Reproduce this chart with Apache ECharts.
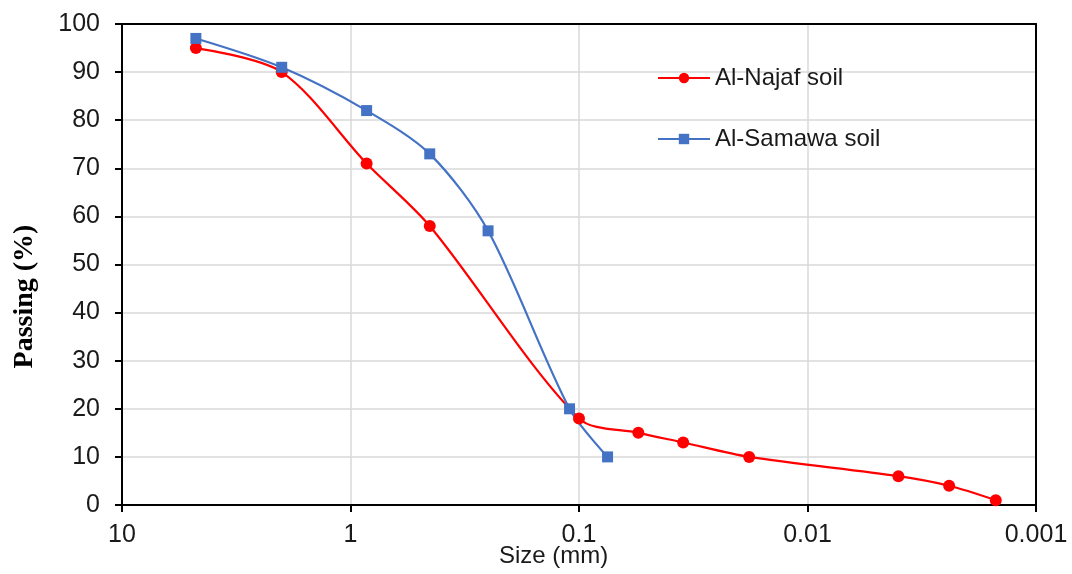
<!DOCTYPE html>
<html>
<head>
<meta charset="utf-8">
<script src="https://cdn.jsdelivr.net/npm/echarts@6/dist/echarts.min.js"></script>
<style>html,body{margin:0;padding:0;background:#fff}#c{width:1072px;height:574px}</style>
</head>
<body>
<div id="c"></div>
<script>
const najafSize = [4.75, 2.0, 0.85, 0.45, 0.1, 0.055, 0.035, 0.018, 0.004, 0.0024, 0.0015];
const najafPass = [95, 90, 71, 58, 18, 15, 13, 10, 6, 4, 1];
const samawaSize = [4.75, 2.0, 0.85, 0.45, 0.25, 0.11, 0.075];
const samawaPass = [97, 91, 82, 73, 57, 20, 10];
const yTicks = [0, 10, 20, 30, 40, 50, 60, 70, 80, 90, 100];
const xTickLabels = ['10', '1', '0.1', '0.01', '0.001'];
const xAxisTitle = 'Size (mm)';
const yAxisTitle = 'Passing (%)';

const chart = echarts.init(document.getElementById('c'));
const font = 'Liberation Sans, Arial, sans-serif';
const txt = '#1a1a1a';
chart.setOption({
  backgroundColor: '#fff',
  animation: false,
  title: {
    text: xAxisTitle, left: 499, top: 544, padding: 0,
    textStyle: { fontFamily: font, fontSize: 24, fontWeight: 'normal', color: txt }
  },
  grid: { left: 122, right: 36, top: 24, bottom: 69, outerBoundsMode: 'none', containLabel: false },
  legend: {
    orient: 'vertical', left: 652, top: 61, itemGap: 37, itemWidth: 52, itemHeight: 13,
    textStyle: { fontFamily: font, fontSize: 24, color: txt },
    data: ['Al-Najaf soil', 'Al-Samawa soil']
  },
  xAxis: [{
    type: 'log', logBase: 10, min: 0.001, max: 10, inverse: true,
    axisLine: { onZero: false, lineStyle: { color: '#000', width: 2 } },
    axisTick: { show: true, length: 7, lineStyle: { color: '#000', width: 2 } },
    minorTick: { show: false },
    splitLine: { show: true, lineStyle: { color: '#d9d9d9', width: 1.5 } },
    axisLabel: {
      fontFamily: font, fontSize: 25, color: txt, margin: 18,
      formatter: function (v) {
        const e = Math.round(Math.log10(v));
        const i = 1 - e;
        return xTickLabels[i] !== undefined ? xTickLabels[i] : '';
      }
    }
  }, {
    type: 'log', logBase: 10, min: 0.001, max: 10, inverse: true, position: 'top',
    axisLine: { show: true, onZero: false, lineStyle: { color: '#000', width: 2 } },
    axisTick: { show: false }, axisLabel: { show: false }, splitLine: { show: false }
  }],
  yAxis: [{
    type: 'value', min: 0, max: 100, interval: 10,
    name: yAxisTitle, nameLocation: 'middle', nameGap: 83, nameRotate: 90, nameMoveOverlap: false,
    nameTextStyle: { fontFamily: 'Liberation Serif, Times New Roman, serif', fontWeight: 'bold', fontSize: 28, color: '#000', padding: [0, 64, 0, 0] },
    axisLine: { show: true, onZero: false, lineStyle: { color: '#000', width: 2 } },
    axisTick: { show: true, length: 7, lineStyle: { color: '#000', width: 2 } },
    splitLine: { show: true, lineStyle: { color: '#d9d9d9', width: 1.5 } },
    axisLabel: {
      fontFamily: font, fontSize: 25, color: txt, margin: 22,
      formatter: function (v) { return yTicks.indexOf(v) >= 0 ? String(v) : ''; }
    }
  }, {
    type: 'value', min: 0, max: 100, interval: 10, position: 'right',
    axisLine: { show: true, onZero: false, lineStyle: { color: '#000', width: 2 } },
    axisTick: { show: false }, axisLabel: { show: false }, splitLine: { show: false }
  }],
  series: [
    {
      name: 'Al-Najaf soil', type: 'line', smooth: 0.3,
      symbol: 'circle', symbolSize: 12,
      itemStyle: { color: '#ff0000' },
      lineStyle: { color: '#ff0000', width: 2.2 },
      data: najafSize.map((s, i) => [s, najafPass[i]])
    },
    {
      name: 'Al-Samawa soil', type: 'line', smooth: 0.3,
      symbol: 'rect', symbolSize: 11,
      itemStyle: { color: '#4472c4' },
      lineStyle: { color: '#4472c4', width: 2.2 },
      data: samawaSize.map((s, i) => [s, samawaPass[i]])
    }
  ]
});
</script>
</body>
</html>
